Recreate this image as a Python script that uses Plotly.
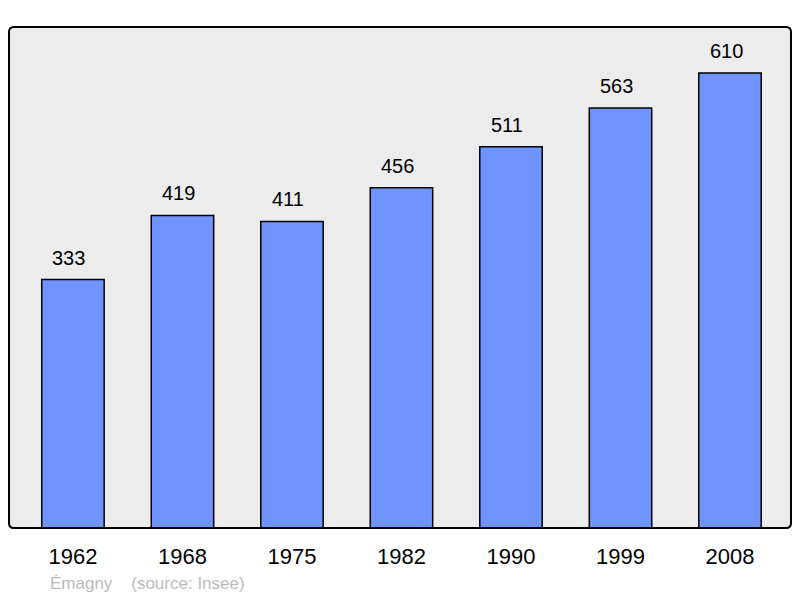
import plotly.graph_objects as go

years = ["1962", "1968", "1975", "1982", "1990", "1999", "2008"]
population = [333, 419, 411, 456, 511, 563, 610]

x = list(range(len(years)))
FONT = "Liberation Sans, Arial, sans-serif"

fig = go.Figure()
fig.add_trace(go.Bar(
    x=x, y=population, width=0.57,
    marker=dict(color="#7094ff", line=dict(color="#000000", width=1.5)),
    hoverinfo="skip",
))

annotations = []
for xi, v in zip(x, population):
    annotations.append(dict(x=xi, y=v, xref="x", yref="y", text=str(v),
                            showarrow=False, yanchor="bottom", yshift=9, xshift=-4,
                            font=dict(family=FONT, size=20, color="#000000")))
annotations.append(dict(x=(48 - 9) / 782, y=-0.11, xref="paper", yref="paper",
                        xanchor="left", yanchor="middle", showarrow=False,
                        text="Émagny&nbsp;&nbsp;&nbsp;&nbsp;(source: Insee)",
                        font=dict(family=FONT, size=17, color="#bbbbbb")))

rx, ry = 5 / 782, 5 / 501
frame = (f"M {rx},0 L {1-rx},0 Q 1,0 1,{ry} L 1,{1-ry} Q 1,1 {1-rx},1 "
         f"L {rx},1 Q 0,1 0,{1-ry} L 0,{ry} Q 0,0 {rx},0 Z")

fig.update_layout(
    width=800, height=598,
    margin=dict(l=9, r=9, t=27, b=70),
    paper_bgcolor="#ffffff", plot_bgcolor="rgba(0,0,0,0)",
    showlegend=False,
    annotations=annotations,
    xaxis=dict(range=[-0.584, 6.557], tickmode="array", tickvals=x, ticktext=years,
               showgrid=False, zeroline=False, ticks="outside", ticklen=9,
               tickcolor="rgba(0,0,0,0)",
               tickfont=dict(family=FONT, size=22, color="#000000")),
    yaxis=dict(range=[0, 671.6], showgrid=False, zeroline=False,
               showticklabels=False, ticks=""),
    shapes=[
        dict(type="path", xref="paper", yref="paper", path=frame,
             fillcolor="#ececec", line=dict(width=0), layer="below"),
        dict(type="path", xref="paper", yref="paper", path=frame,
             line=dict(color="#000000", width=2), layer="above"),
    ],
)

fig.write_html("out.html", config={"displayModeBar": False},
               post_script="document.body.style.margin='0';")
